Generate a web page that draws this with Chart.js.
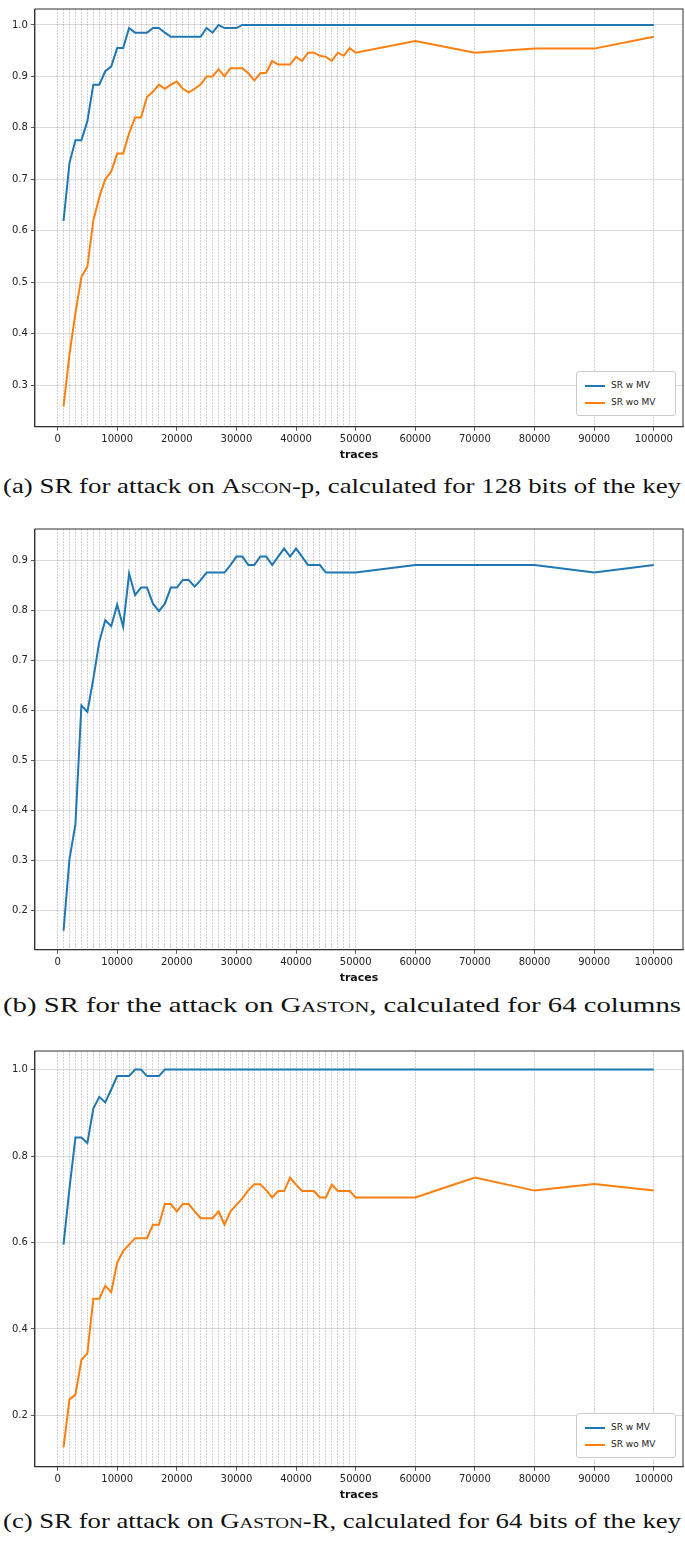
<!DOCTYPE html>
<html>
<head>
<meta charset="utf-8">
<script src="https://cdn.jsdelivr.net/npm/chart.js@4.4.0/dist/chart.umd.min.js"></script>
<style>
  body { margin: 0; background: #fff; width: 685px; height: 1546px; position: relative; overflow: hidden; }
  .box { position: absolute; left: 0; width: 685px; }
  .cap { position: absolute; left: 3px; text-align: left; font-family: "Liberation Serif", "DejaVu Serif", serif; font-size: 21px; color: #111; white-space: nowrap; transform-origin: 0 0; }
  .sc { font-variant: small-caps; }
  .leg { position: absolute; width: 98px; height: 43px; border: 1px solid #ccc; border-radius: 3px; background: #fff;
         font-family: "DejaVu Sans", sans-serif; font-size: 9px; color: #222; }
  .leg div { position: absolute; left: 8px; }
  .leg span { display: inline-block; width: 20px; height: 2px; vertical-align: middle; margin-right: 6px; }
</style>
</head>
<body>
<div class="box" style="top:0;height:462px"><canvas id="c1"></canvas></div>
<div class="cap" style="top:474px">(a) SR for attack on <span class="sc">Ascon</span>-p, calculated for 128 bits of the key</div>
<div class="box" style="top:520px;height:465px"><canvas id="c2"></canvas></div>
<div class="cap" style="top:993px">(b) SR for the attack on <span class="sc">Gaston</span>, calculated for 64 columns</div>
<div class="box" style="top:1042px;height:460px"><canvas id="c3"></canvas></div>
<div class="cap" style="top:1509px">(c) SR for attack on <span class="sc">Gaston</span>-R, calculated for 64 bits of the key</div>

<div class="leg" style="left:576px;top:371px">
  <div style="top:8px"><span style="background:#1f77b4"></span>SR w MV</div>
  <div style="top:25px"><span style="background:#ff7f0e"></span>SR wo MV</div>
</div>
<div class="leg" style="left:576px;top:1413px">
  <div style="top:8px"><span style="background:#1f77b4"></span>SR w MV</div>
  <div style="top:25px"><span style="background:#ff7f0e"></span>SR wo MV</div>
</div>

<script>
// traces: 1000..50000 step 1000, then 60000..100000
const traces = [1000,2000,3000,4000,5000,6000,7000,8000,9000,10000,
  11000,12000,13000,14000,15000,16000,17000,18000,19000,20000,
  21000,22000,23000,24000,25000,26000,27000,28000,29000,30000,
  31000,32000,33000,34000,35000,36000,37000,38000,39000,40000,
  41000,42000,43000,44000,45000,46000,47000,48000,49000,50000,
  60000,70000,80000,90000,100000];

// (a) Ascon-p
const asconWithMV = [0.619,0.732,0.776,0.776,0.813,0.884,0.884,0.910,0.919,0.955,
  0.955,0.994,0.985,0.985,0.985,0.994,0.994,0.985,0.977,0.977,
  0.977,0.977,0.977,0.977,0.994,0.985,1.0,0.994,0.994,0.994,
  1.0,1.0,1.0,1.0,1.0,1.0,1.0,1.0,1.0,1.0,
  1.0,1.0,1.0,1.0,1.0,1.0,1.0,1.0,1.0,1.0,
  1.0,1.0,1.0,1.0,1.0];
const asconWithoutMV = [0.258,0.36,0.44,0.51,0.53,0.62,0.665,0.70,0.715,0.75,
  0.75,0.79,0.82,0.82,0.86,0.87,0.884,0.876,0.884,0.89,
  0.876,0.869,0.876,0.884,0.9,0.9,0.914,0.9,0.916,0.916,
  0.916,0.906,0.892,0.906,0.907,0.93,0.923,0.923,0.923,0.938,
  0.93,0.946,0.946,0.94,0.938,0.93,0.946,0.94,0.955,0.946,
  0.969,0.946,0.954,0.954,0.977];

// (b) Gaston
const gastonWithMV = [0.16,0.303,0.373,0.61,0.597,0.663,0.737,0.78,0.768,0.811,
  0.767,0.873,0.83,0.845,0.845,0.813,0.798,0.813,0.845,0.845,
  0.86,0.86,0.847,0.86,0.875,0.875,0.875,0.875,0.89,0.907,
  0.907,0.89,0.89,0.907,0.907,0.89,0.907,0.923,0.907,0.923,
  0.907,0.89,0.89,0.89,0.875,0.875,0.875,0.875,0.875,0.875,
  0.89,0.89,0.89,0.875,0.89];

// (c) Gaston-R
const gastonRWithMV = [0.595,0.725,0.843,0.843,0.83,0.91,0.937,0.924,0.954,0.985,
  0.985,0.985,1.0,1.0,0.985,0.985,0.985,1.0,1.0,1.0,
  1.0,1.0,1.0,1.0,1.0,1.0,1.0,1.0,1.0,1.0,
  1.0,1.0,1.0,1.0,1.0,1.0,1.0,1.0,1.0,1.0,
  1.0,1.0,1.0,1.0,1.0,1.0,1.0,1.0,1.0,1.0,
  1.0,1.0,1.0,1.0,1.0];
const gastonRWithoutMV = [0.126,0.237,0.248,0.328,0.344,0.47,0.47,0.5,0.485,0.553,
  0.58,0.595,0.61,0.61,0.61,0.641,0.641,0.689,0.689,0.672,
  0.689,0.689,0.672,0.656,0.656,0.656,0.672,0.641,0.672,0.687,
  0.702,0.721,0.735,0.735,0.721,0.704,0.719,0.719,0.75,0.734,
  0.719,0.719,0.719,0.704,0.704,0.734,0.719,0.719,0.719,0.704,
  0.704,0.75,0.72,0.735,0.72];

const xTickLabels = [0,10000,20000,30000,40000,50000,60000,70000,80000,90000,100000];

const toPoints = (ys) => ys.map((y, i) => ({ x: traces[i], y: y }));

function makeChart(id, series, yMin, yMax, yStep) {
  const datasets = series.map(s => ({
    label: s.label, data: toPoints(s.data), borderColor: s.color,
    borderWidth: 2, pointRadius: 0, tension: 0, fill: false
  }));
  new Chart(document.getElementById(id), {
    type: "line",
    data: { datasets: datasets },
    options: {
      responsive: true, maintainAspectRatio: false, animation: false,
      layout: { padding: { top: 5, right: 2, left: 9, bottom: 0 } },
      plugins: { legend: { display: false }, tooltip: { enabled: false } },
      scales: {
        x: {
          type: "linear", min: -3800, max: 104900,
          afterBuildTicks: (axis) => {
            const vals = xTickLabels.concat(traces.slice(0, 50).filter(t => t % 10000 !== 0));
            axis.ticks = vals.sort((a, b) => a - b).map(v => ({ value: v }));
          },
          ticks: {
            autoSkip: false, maxRotation: 0, color: "#222",
            font: { family: "DejaVu Sans", size: 10 },
            callback: (v) => xTickLabels.includes(v) ? String(v) : ""
          },
          grid: { color: "rgba(140,140,140,0.5)", lineWidth: 0.8, tickLength: 4,
                  tickColor: (ctx) => xTickLabels.includes(ctx.tick && ctx.tick.value) ? "#333" : "rgba(0,0,0,0)" },
          border: { color: "#333", dash: [2, 1] },
          title: { display: true, text: "traces", color: "#111",
                   font: { family: "DejaVu Sans", size: 11, weight: "bold" }, padding: { top: 0, bottom: 0 } }
        },
        y: {
          min: yMin, max: yMax,
          afterBuildTicks: (axis) => {
            const t = [];
            for (let v = Math.ceil(yMin / yStep) * yStep; v <= yMax + 1e-9; v += yStep) t.push({ value: Math.round(v * 10) / 10 });
            axis.ticks = t;
          },
          ticks: { color: "#222", font: { family: "DejaVu Sans", size: 10 }, callback: (v) => v.toFixed(1) },
          grid: { color: "rgba(150,150,150,0.45)", lineWidth: 0.8, tickLength: 4, tickColor: "#333" },
          border: { color: "#333" }
        }
      }
    },
    plugins: [{
      id: "frame",
      afterDraw(chart) {
        const { ctx, chartArea: a } = chart;
        ctx.save();
        ctx.strokeStyle = "#333"; ctx.lineWidth = 1;
        ctx.strokeRect(a.left, a.top, a.right - a.left, a.bottom - a.top);
        ctx.restore();
      }
    }]
  });
}

makeChart("c1", [
  { label: "SR w MV", data: asconWithMV, color: "#1f77b4" },
  { label: "SR wo MV", data: asconWithoutMV, color: "#ff7f0e" }
], 0.219, 1.031, 0.1);

makeChart("c2", [
  { label: "SR w MV", data: gastonWithMV, color: "#1f77b4" }
], 0.122, 0.962, 0.1);

makeChart("c3", [
  { label: "SR w MV", data: gastonRWithMV, color: "#1f77b4" },
  { label: "SR wo MV", data: gastonRWithoutMV, color: "#ff7f0e" }
], 0.081, 1.043, 0.2);

// stretch captions to the page width like the typeset original
document.querySelectorAll(".cap").forEach(el => {
  const w = el.getBoundingClientRect().width;
  el.style.transform = "scaleX(" + (678 / w) + ")";
});
</script>
</body>
</html>
